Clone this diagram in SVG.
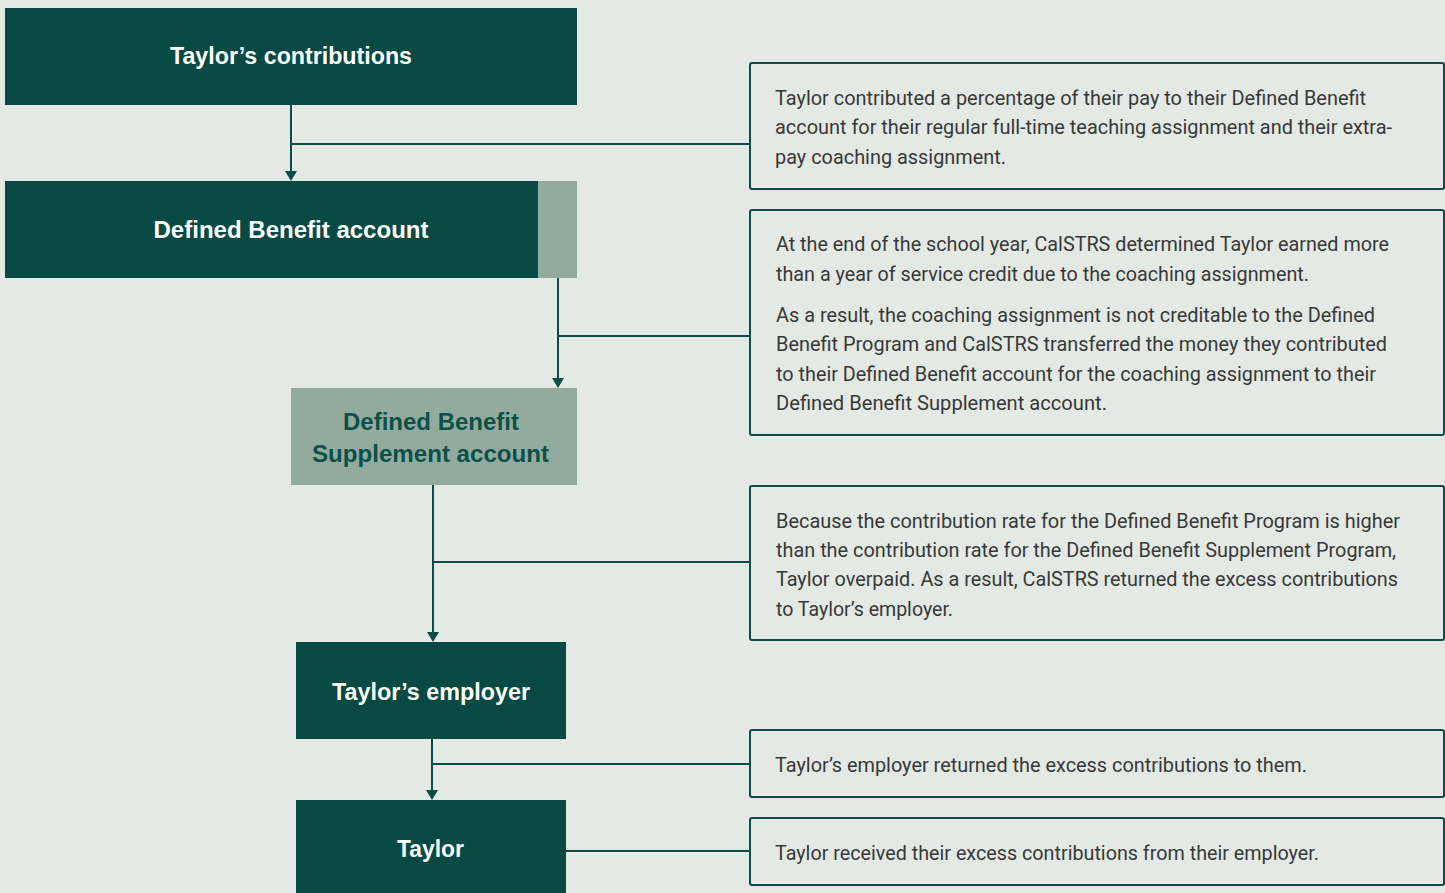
<svg xmlns="http://www.w3.org/2000/svg" width="1445" height="893" viewBox="0 0 1445 893">
<style>
.dark{fill:#064a43}
.light{fill:#93ab9e}
.title{font-family:"Liberation Sans",Arial,sans-serif;font-weight:bold;font-size:23px;fill:#ffffff;text-anchor:middle}
.title2{font-family:"Liberation Sans",Arial,sans-serif;font-weight:bold;font-size:23px;fill:#0b5148;text-anchor:middle}
.note{fill:none;stroke:#0a4d45;stroke-width:2}
.nt{font-family:"Roboto","Liberation Sans",sans-serif;font-size:20px;fill:#383838}
.ln{stroke:#0a4d45;stroke-width:2;fill:none}
.ah{fill:#0a4d45}
</style>
<rect width="1445" height="893" fill="#e4e9e5"/>
<g id="connectors">
<line class="ln" x1="291" y1="105" x2="291" y2="171"/><path class="ah" d="M285,171 L297,171 L291,181 Z"/>
<line class="ln" x1="291" y1="144" x2="750" y2="144"/>
<line class="ln" x1="558" y1="278" x2="558" y2="378"/><path class="ah" d="M552,378 L564,378 L558,388 Z"/>
<line class="ln" x1="558" y1="336" x2="750" y2="336"/>
<line class="ln" x1="433" y1="485" x2="433" y2="632"/><path class="ah" d="M427,632 L439,632 L433,642 Z"/>
<line class="ln" x1="433" y1="562" x2="750" y2="562"/>
<line class="ln" x1="432" y1="739" x2="432" y2="790"/><path class="ah" d="M426,790 L438,790 L432,800 Z"/>
<line class="ln" x1="432" y1="764" x2="750" y2="764"/>
<line class="ln" x1="566" y1="851" x2="750" y2="851"/>
</g>
<g id="n1"><rect class="dark" x="5" y="8" width="572" height="97"/><text class="title" x="291" y="64" textLength="242" lengthAdjust="spacingAndGlyphs">Taylor’s contributions</text></g>
<g id="n2"><rect class="dark" x="5" y="181" width="533" height="97"/><rect class="light" x="538" y="181" width="39" height="97"/><text class="title" x="291" y="238" textLength="275" lengthAdjust="spacingAndGlyphs">Defined Benefit account</text></g>
<g id="n3"><rect class="light" x="291" y="388" width="286" height="97"/><text class="title2" x="431" y="430" textLength="176" lengthAdjust="spacingAndGlyphs">Defined Benefit</text><text class="title2" x="430.5" y="462" textLength="237" lengthAdjust="spacingAndGlyphs">Supplement account</text></g>
<g id="n4"><rect class="dark" x="296" y="642" width="270" height="97"/><text class="title" x="431" y="700" textLength="198" lengthAdjust="spacingAndGlyphs">Taylor’s employer</text></g>
<g id="n5"><rect class="dark" x="296" y="800" width="270" height="100"/><text class="title" x="430.5" y="857" textLength="67" lengthAdjust="spacingAndGlyphs">Taylor</text></g>
<g id="note1"><rect class="note" x="750" y="63" width="694" height="126" rx="2"/>
<text class="nt" x="775" y="105" textLength="591" lengthAdjust="spacingAndGlyphs">Taylor contributed a percentage of their pay to their Defined Benefit</text>
<text class="nt" x="775" y="134" textLength="617" lengthAdjust="spacingAndGlyphs">account for their regular full-time teaching assignment and their extra-</text>
<text class="nt" x="775" y="164" textLength="231" lengthAdjust="spacingAndGlyphs">pay coaching assignment.</text></g>
<g id="note2"><rect class="note" x="750" y="210" width="694" height="225" rx="2"/>
<text class="nt" x="776" y="251" textLength="613" lengthAdjust="spacingAndGlyphs">At the end of the school year, CalSTRS determined Taylor earned more</text>
<text class="nt" x="776" y="281" textLength="533" lengthAdjust="spacingAndGlyphs">than a year of service credit due to the coaching assignment.</text>
<text class="nt" x="776" y="322" textLength="599" lengthAdjust="spacingAndGlyphs">As a result, the coaching assignment is not creditable to the Defined</text>
<text class="nt" x="776" y="351" textLength="611" lengthAdjust="spacingAndGlyphs">Benefit Program and CalSTRS transferred the money they contributed</text>
<text class="nt" x="776" y="381" textLength="600" lengthAdjust="spacingAndGlyphs">to their Defined Benefit account for the coaching assignment to their</text>
<text class="nt" x="776" y="410" textLength="331" lengthAdjust="spacingAndGlyphs">Defined Benefit Supplement account.</text></g>
<g id="note3"><rect class="note" x="750" y="486" width="694" height="154" rx="2"/>
<text class="nt" x="776" y="528" textLength="624" lengthAdjust="spacingAndGlyphs">Because the contribution rate for the Defined Benefit Program is higher</text>
<text class="nt" x="776" y="557" textLength="620" lengthAdjust="spacingAndGlyphs">than the contribution rate for the Defined Benefit Supplement Program,</text>
<text class="nt" x="776" y="586" textLength="622" lengthAdjust="spacingAndGlyphs">Taylor overpaid. As a result, CalSTRS returned the excess contributions</text>
<text class="nt" x="776" y="616" textLength="177" lengthAdjust="spacingAndGlyphs">to Taylor’s employer.</text></g>
<g id="note4"><rect class="note" x="750" y="730" width="694" height="67" rx="2"/>
<text class="nt" x="775" y="772" textLength="532" lengthAdjust="spacingAndGlyphs">Taylor’s employer returned the excess contributions to them.</text></g>
<g id="note5"><rect class="note" x="750" y="818" width="694" height="67" rx="2"/>
<text class="nt" x="775" y="860" textLength="544" lengthAdjust="spacingAndGlyphs">Taylor received their excess contributions from their employer.</text></g>
</svg>
